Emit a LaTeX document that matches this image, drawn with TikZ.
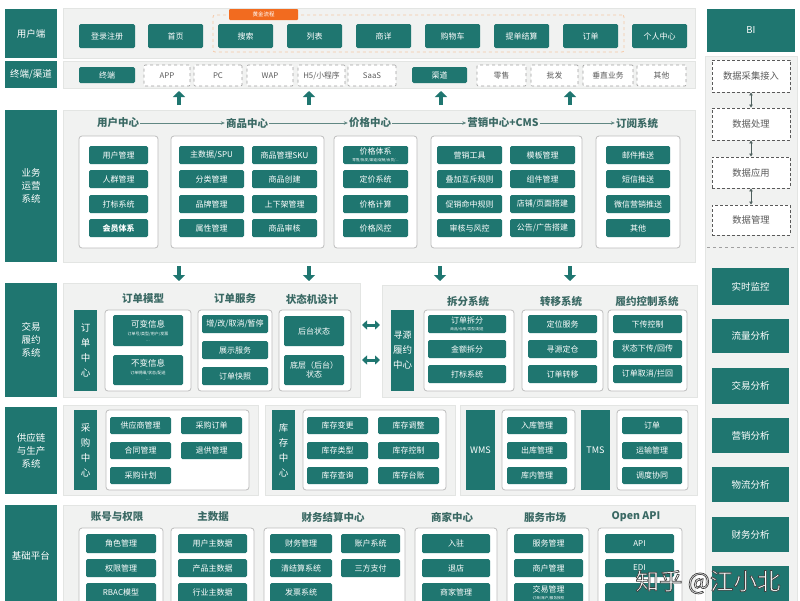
\documentclass[tikz,border=0pt]{standalone}
\usepackage{fontspec}
\setmainfont{Noto Sans CJK SC}
\usetikzlibrary{arrows.meta,calc}
\definecolor{teal1}{HTML}{1F7670}
\definecolor{panelc}{HTML}{F1F2F1}
\definecolor{panelb}{HTML}{E3E5E3}
\definecolor{grpb}{HTML}{BDBDBD}
\definecolor{titlec}{HTML}{3A6964}
\definecolor{orng}{HTML}{F26B1F}
\definecolor{orngl}{HTML}{F6C9A6}
\definecolor{dashc}{HTML}{A0A0A0}
\definecolor{txtg}{HTML}{5A5A5A}
\newcommand\bx[7][]{\pgfmathsetmacro\myw{#5-#3}\pgfmathsetmacro\myh{#6-#4}%
  \node[#1,minimum width=\myw pt,minimum height=\myh pt] (#2) at ({(#3+#5)/2},{(#4+#6)/2}) {#7};}
\newcommand\outlinetext[1]{\special{pdf:literal 2 Tr 0.7 w 0.25 0.25 0.25 RG}#1\special{pdf:literal 0 Tr}}
\tikzset{
  tbox/.style={fill=teal1,rounded corners=1.5pt,text=white,font=\fontsize{8}{9}\selectfont,inner sep=0pt,align=center},
  side/.style={fill=teal1,text=white,font=\fontsize{9.5}{13}\selectfont,inner sep=0pt,align=center},
  vbox/.style={fill=teal1,text=white,font=\fontsize{9.5}{15}\selectfont,inner sep=0pt,align=center},
  panel/.style={fill=panelc,draw=panelb,line width=0.5pt,inner sep=0pt},
  grp/.style={fill=white,draw=grpb,line width=0.8pt,rounded corners=3pt,inner sep=0pt},
  dbox/.style={fill=white,draw=dashc,dashed,line width=0.7pt,text=txtg,font=\fontsize{7.8}{9}\selectfont,rounded corners=1pt,inner sep=0pt,align=center},
  ddata/.style={fill=white,draw=txtg,densely dashed,line width=0.8pt,text=txtg,font=\fontsize{9.3}{10}\selectfont,inner sep=0pt,align=center},
  odash/.style={draw=orngl,dashed,line width=0.8pt,rounded corners=2pt,inner sep=0pt},
  olab/.style={fill=orng,text=white,font=\fontsize{5.5}{6}\selectfont,rounded corners=1pt,inner sep=0pt},
  ttl/.style={text=titlec,font=\fontsize{10.5}{12}\selectfont\bfseries,inner sep=1pt},
  tarrow/.style={draw=titlec!80,line width=0.6pt,-{Stealth[length=4pt,width=3.5pt]}},
  bigup/.style={draw=teal1,line width=4pt,-{Triangle[width=12pt,length=6pt]}},
  dblarrow/.style={draw=teal1,line width=3pt,{Triangle[width=9pt,length=5pt]}-{Triangle[width=9pt,length=5pt]}},
  darrow/.style={draw=txtg!80!teal1,line width=0.9pt,{Latex[length=3pt,width=4pt]}-{Latex[length=3pt,width=4pt]}}
}
\begin{document}
\begin{tikzpicture}[x=1pt,y=-1pt]
\useasboundingbox (0,0) rectangle (800,600);
\fill[white] (0,0) rectangle (800,600);
% ---------- row 1
\bx[side]{l1}{5}{9}{57}{58}{用户端}
\bx[panel]{p1}{63}{8}{695}{58}{}
\bx[odash]{gold}{213}{15}{624}{52}{}
\bx[olab]{goldl}{229}{9}{298}{20}{黄金流程}
\bx[tbox]{u1}{79}{24}{135}{48}{登录注册}
\bx[tbox]{u2}{148}{24}{203}{48}{首页}
\bx[tbox]{u3}{218}{24}{273}{48}{搜索}
\bx[tbox]{u4}{287}{24}{342}{48}{列表}
\bx[tbox]{u5}{356}{24}{411}{48}{商详}
\bx[tbox]{u6}{425}{24}{480}{48}{购物车}
\bx[tbox]{u7}{494}{24}{549}{48}{提单结算}
\bx[tbox]{u8}{563}{24}{618}{48}{订单}
\bx[tbox]{u9}{632}{24}{687}{48}{个人中心}
% ---------- row 2
\bx[side]{l2}{5}{61}{57}{88}{终端/渠道}
\bx[panel]{p2}{63}{61}{695}{88}{}
\bx[tbox]{c1}{79}{67}{135}{83}{终端}
\bx[dbox]{c2}{144}{65}{190}{86}{APP}
\bx[dbox]{c3}{194}{65}{242}{86}{PC}
\bx[dbox]{c4}{247}{65}{293}{86}{WAP}
\bx[dbox]{c5}{298}{65}{345}{86}{H5/小程序}
\bx[dbox]{c6}{348}{65}{396}{86}{SaaS}
\bx[tbox]{c7}{412}{67}{467}{83}{渠道}
\bx[dbox]{c8}{477}{65}{526}{86}{零售}
\bx[dbox]{c9}{531}{65}{578}{86}{批发}
\bx[dbox]{c10}{583}{65}{633}{86}{垂直业务}
\bx[dbox]{c11}{637}{65}{686}{86}{其他}
\foreach \xx in {179,309,441,570}{\draw[bigup] (\xx,105) -- (\xx,91);}
% ---------- row 3
\bx[side]{l3}{5}{110}{57}{262}{业务\\运营\\系统}
\bx[panel]{p3}{63}{110}{695}{262}{}
\node[ttl] (t1) at (118,123) {用户中心};
\node[ttl] (t2) at (247,123) {商品中心};
\node[ttl] (t3) at (370,123) {价格中心};
\node[ttl] (t4) at (503,123) {营销中心+CMS};
\node[ttl] (t5) at (637,123) {订阅系统};
\draw[tarrow] (t1) -- (t2);
\draw[tarrow] (t2) -- (t3);
\draw[tarrow] (t3) -- (t4);
\draw[tarrow] (t4) -- (t5);
\bx[grp]{g1}{79}{136}{158}{248}{}
\bx[grp]{g2}{171}{136}{324}{248}{}
\bx[grp]{g3}{334}{136}{417}{248}{}
\bx[grp]{g4}{431}{136}{582}{248}{}
\bx[grp]{g5}{596}{136}{680}{248}{}
\bx[tbox]{a1}{89}{146}{148}{164}{用户管理}
\bx[tbox]{a2}{89}{170}{148}{188}{人群管理}
\bx[tbox]{a3}{89}{195}{148}{213}{打标系统}
\bx[tbox]{a4}{89}{219}{148}{237}{\bfseries 会员体系}
\bx[tbox]{b1}{179}{146}{244}{164}{主数据/SPU}
\bx[tbox]{b2}{179}{170}{244}{188}{分类管理}
\bx[tbox]{b3}{179}{195}{244}{213}{品牌管理}
\bx[tbox]{b4}{179}{219}{244}{237}{属性管理}
\bx[tbox]{b5}{252}{146}{317}{164}{商品管理SKU}
\bx[tbox]{b6}{252}{170}{317}{188}{商品创建}
\bx[tbox]{b7}{252}{195}{317}{213}{上下架管理}
\bx[tbox]{b8}{252}{219}{317}{237}{商品审核}
\bx[tbox]{pr1}{343}{146}{408}{164}{价格体系\\[-2pt]{\fontsize{3.6}{4}\selectfont 零售/批发/渠道/促销/会员/...}}
\bx[tbox]{pr2}{343}{170}{408}{188}{定价系统}
\bx[tbox]{pr3}{343}{195}{408}{213}{价格计算}
\bx[tbox]{pr4}{343}{219}{408}{237}{价格风控}
\bx[tbox]{m1}{437}{146}{502}{164}{营销工具}
\bx[tbox]{m2}{437}{170}{502}{188}{叠加互斥规则}
\bx[tbox]{m3}{437}{195}{502}{213}{促销命中规则}
\bx[tbox]{m4}{437}{219}{502}{237}{审核与风控}
\bx[tbox]{m5}{510}{146}{575}{164}{模板管理}
\bx[tbox]{m6}{510}{170}{575}{188}{组件管理}
\bx[tbox]{m7}{510}{195}{575}{213}{店铺/页面搭建}
\bx[tbox]{m8}{510}{219}{575}{237}{公告/广告搭建}
\bx[tbox]{s1}{606}{146}{670}{164}{邮件推送}
\bx[tbox]{s2}{606}{170}{670}{188}{短信推送}
\bx[tbox]{s3}{606}{195}{670}{213}{微信营销推送}
\bx[tbox]{s4}{606}{219}{670}{237}{其他}
\foreach \xx in {179,309,440,570}{\draw[bigup] (\xx,266) -- (\xx,281);}
% ---------- row 4
\bx[side]{l4}{5}{283}{57}{397}{交易\\履约\\系统}
\bx[panel]{p4a}{63}{283}{360}{397}{}
\bx[panel]{p4b}{382}{285}{697}{397}{}
\bx[vbox]{oc}{74}{310}{97}{391}{订\\单\\中\\心}
\node[ttl] (t6) at (143,299) {订单模型};
\node[ttl] (t7) at (235,299) {订单服务};
\node[ttl] (t8) at (312,299) {状态机设计};
\bx[grp]{g6}{105}{310}{191}{391}{}
\bx[grp]{g7}{198}{310}{272}{391}{}
\bx[grp]{g8}{279}{310}{351}{391}{}
\bx[tbox]{o1}{113}{315}{183}{346}{\fontsize{8.5}{9}\selectfont 可变信息\\[-1pt]{\fontsize{4}{5}\selectfont 订单号/类型/用户/发票}\\[-3pt]{\fontsize{4}{5}\selectfont ...}}
\bx[tbox]{o2}{113}{355}{183}{385}{\fontsize{8.5}{9}\selectfont 不变信息\\[-1pt]{\fontsize{4}{5}\selectfont 订单明细/状态/配送}\\[-3pt]{\fontsize{4}{5}\selectfont ...}}
\bx[tbox]{o3}{202}{315}{268}{333}{增/改/取消/暂停}
\bx[tbox]{o4}{202}{341}{268}{359}{展示服务}
\bx[tbox]{o5}{202}{367}{268}{385}{订单快照}
\bx[tbox]{o6}{284}{316}{344}{346}{后台状态}
\bx[tbox]{o7}{284}{355}{344}{385}{底层（后台）\\状态}
\coordinate (da1) at (362,325); \coordinate (db1) at (380,325);
\coordinate (da2) at (362,360); \coordinate (db2) at (380,360);
\draw[dblarrow] (da1) -- (db1);
\draw[dblarrow] (da2) -- (db2);
\bx[vbox]{fc}{391}{310}{414}{391}{\fontsize{9}{12}\selectfont 寻源\\履约\\中心}
\node[ttl] (t9) at (468,301) {拆分系统};
\node[ttl] (t10) at (561,301) {转移系统};
\node[ttl] (t11) at (647,301) {履约控制系统};
\bx[grp]{g9}{424}{310}{514}{391}{}
\bx[grp]{g10}{522}{310}{603}{391}{}
\bx[grp]{g11}{608}{310}{687}{391}{}
\bx[tbox]{f1}{428}{315}{506}{333}{订单拆分\\[-2pt]{\fontsize{3.6}{4}\selectfont 商品/仓库/类型/配送}}
\bx[tbox]{f2}{428}{340}{506}{358}{金额拆分}
\bx[tbox]{f3}{428}{365}{506}{383}{打标系统}
\bx[tbox]{f4}{528}{315}{597}{333}{定位服务}
\bx[tbox]{f5}{528}{340}{597}{358}{寻源定仓}
\bx[tbox]{f6}{528}{365}{597}{383}{订单转移}
\bx[tbox]{f7}{613}{315}{682}{333}{下传控制}
\bx[tbox]{f8}{613}{340}{682}{358}{状态下传/回传}
\bx[tbox]{f9}{613}{365}{682}{383}{订单取消/拦回}
% ---------- row 5
\bx[side]{l5}{5}{407}{57}{494}{供应链\\与生产\\系统}
\bx[panel]{p5a}{63}{405}{258}{495}{}
\bx[panel]{p5b}{265}{405}{455}{495}{}
\bx[panel]{p5c}{460}{405}{697}{495}{}
\bx[vbox]{pc}{74}{410}{97}{490}{采\\购\\中\\心}
\bx[grp]{g12}{106}{410}{249}{490}{}
\bx[tbox]{e1}{110}{417}{171}{434}{供应商管理}
\bx[tbox]{e2}{110}{442}{171}{459}{合同管理}
\bx[tbox]{e3}{110}{467}{171}{484}{采购计划}
\bx[tbox]{e4}{181}{417}{242}{434}{采购订单}
\bx[tbox]{e5}{181}{442}{242}{459}{退供管理}
\bx[vbox]{ic}{272}{410}{295}{490}{库\\存\\中\\心}
\bx[grp]{g13}{303}{410}{446}{490}{}
\bx[tbox]{k1}{307}{417}{368}{434}{库存变更}
\bx[tbox]{k2}{307}{442}{368}{459}{库存类型}
\bx[tbox]{k3}{307}{467}{368}{484}{库存查询}
\bx[tbox]{k4}{378}{417}{439}{434}{库存调整}
\bx[tbox]{k5}{378}{442}{439}{459}{库存控制}
\bx[tbox]{k6}{378}{467}{439}{484}{库存台账}
\bx[vbox]{wms}{466}{410}{495}{490}{\fontsize{9}{10}\selectfont WMS}
\bx[grp]{g14}{502}{410}{575}{490}{}
\bx[tbox]{w1}{507}{417}{567}{434}{入库管理}
\bx[tbox]{w2}{507}{442}{567}{459}{出库管理}
\bx[tbox]{w3}{507}{467}{567}{484}{库内管理}
\bx[vbox]{tms}{581}{410}{610}{490}{\fontsize{9}{10}\selectfont TMS}
\bx[grp]{g15}{617}{410}{688}{490}{}
\bx[tbox]{x1}{622}{417}{682}{434}{订单}
\bx[tbox]{x2}{622}{442}{682}{459}{运输管理}
\bx[tbox]{x3}{622}{467}{682}{484}{调度协同}
% ---------- row 6
\bx[side]{l6}{5}{505}{57}{606}{基础平台}
\bx[panel]{p6}{63}{505}{695}{606}{}
\node[ttl] (t12) at (117,517) {账号与权限};
\node[ttl] (t13) at (213,517) {主数据};
\node[ttl] (t14) at (333,517) {财务结算中心};
\node[ttl] (t15) at (452,517) {商家中心};
\node[ttl] (t16) at (545,517) {服务市场};
\node[ttl] (t17) at (636,517) {Open API};
\bx[grp]{g16}{79}{528}{163}{612}{}
\bx[grp]{g17}{171}{528}{254}{612}{}
\bx[grp]{g18}{264}{528}{405}{612}{}
\bx[grp]{g19}{415}{528}{497}{612}{}
\bx[grp]{g20}{507}{528}{589}{612}{}
\bx[grp]{g21}{598}{528}{682}{612}{}
\bx[tbox]{h1}{86}{534}{156}{553}{角色管理}
\bx[tbox]{h2}{86}{559}{156}{577}{权限管理}
\bx[tbox]{h3}{86}{583}{156}{602}{RBAC模型}
\bx[tbox]{h4}{178}{534}{247}{553}{用户主数据}
\bx[tbox]{h5}{178}{559}{247}{577}{产品主数据}
\bx[tbox]{h6}{178}{583}{247}{602}{行业主数据}
\bx[tbox]{h7}{270}{534}{332}{553}{财务管理}
\bx[tbox]{h8}{270}{559}{332}{577}{清结算系统}
\bx[tbox]{h9}{270}{583}{332}{602}{发票系统}
\bx[tbox]{h10}{341}{534}{400}{553}{账户系统}
\bx[tbox]{h11}{341}{559}{400}{577}{三方支付}
\bx[tbox]{h12}{422}{534}{490}{553}{入驻}
\bx[tbox]{h13}{422}{559}{490}{577}{退店}
\bx[tbox]{h14}{422}{583}{490}{602}{商家管理}
\bx[tbox]{h15}{514}{534}{583}{553}{服务管理}
\bx[tbox]{h16}{514}{559}{583}{577}{商户管理}
\bx[tbox]{h17}{514}{583}{583}{602}{交易管理\\[-2pt]{\fontsize{3.6}{4}\selectfont 订单/账户/服务授权}}
\bx[tbox]{h18}{605}{534}{674}{553}{API}
\bx[tbox]{h19}{605}{559}{674}{577}{EDI}
\bx[tbox]{h20}{605}{583}{674}{604}{}
% ---------- right column
\bx[side]{bi}{707}{9}{795}{52}{BI}
\bx[panel]{pr}{705}{56}{797}{606}{}
\bx[ddata]{d1}{712}{60}{790}{92}{数据采集接入}
\bx[ddata]{d2}{712}{108}{790}{140}{数据处理}
\bx[ddata]{d3}{712}{157}{790}{188}{数据应用}
\bx[ddata]{d4}{712}{205}{790}{235}{数据管理}
\draw[darrow] (d1) -- (d2);
\draw[darrow] (d2) -- (d3);
\draw[darrow] (d3) -- (d4);
\coordinate (sl) at (707,247); \coordinate (sr) at (795,247);
\draw[dashc,dashed,line width=0.8pt] (sl) -- (sr);
\bx[side]{r1}{712}{268}{789}{305}{实时监控}
\bx[side]{r2}{712}{319}{789}{353}{流量分析}
\bx[side]{r3}{712}{368}{789}{404}{交易分析}
\bx[side]{r4}{712}{418}{789}{453}{营销分析}
\bx[side]{r5}{712}{467}{789}{502}{物流分析}
\bx[side]{r6}{712}{517}{789}{552}{财务分析}
\bx[side]{r7}{712}{566}{789}{606}{}
% ---------- watermark
\node[text=white,font=\fontsize{23.5}{25}\selectfont,inner sep=0pt] (wm) at (708,582) {\outlinetext{知乎 @江小北}};
\end{tikzpicture}
\end{document}
